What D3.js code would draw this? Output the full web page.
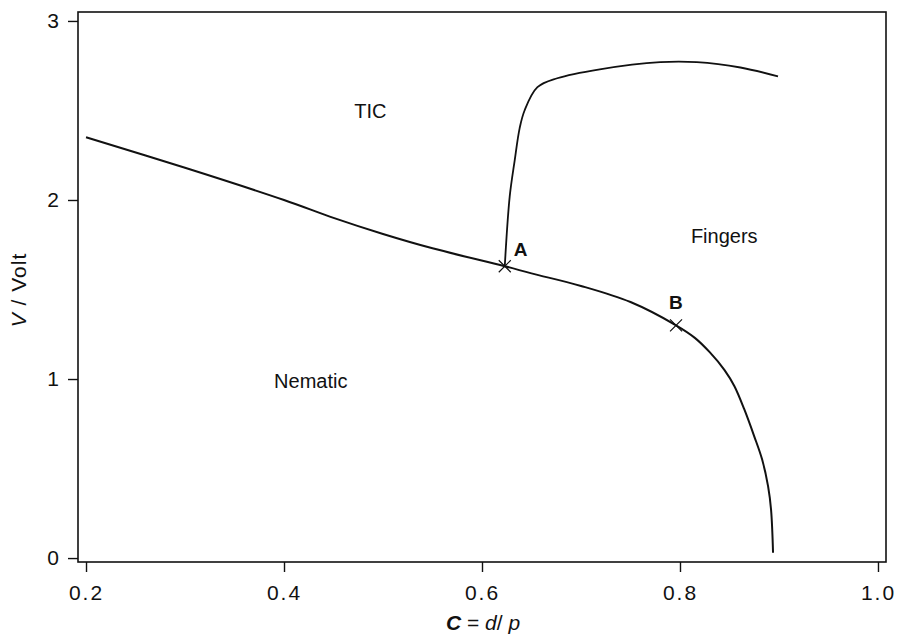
<!DOCTYPE html>
<html>
<head>
<meta charset="utf-8" />
<title>Phase diagram</title>
<script src="https://cdn.jsdelivr.net/npm/d3@7"></script>
<style>
  html, body { margin: 0; padding: 0; background: #fff; }
  text { font-family: "Liberation Sans", Arial, sans-serif; fill: #111; }
</style>
</head>
<body>
<script>
// nematic / TIC-fingers boundary
var boundC = [0.20, 0.30, 0.40, 0.45, 0.50, 0.55, 0.623, 0.65, 0.70, 0.75, 0.796, 0.815, 0.830, 0.845, 0.855, 0.865, 0.875, 0.883, 0.889, 0.892, 0.894];
var boundV = [2.35, 2.18, 2.00, 1.90, 1.81, 1.73, 1.63, 1.59, 1.52, 1.43, 1.30, 1.23, 1.15, 1.05, 0.96, 0.83, 0.68, 0.55, 0.40, 0.27, 0.03];
// TIC / fingers boundary
var ticC = [0.623, 0.628, 0.633, 0.638, 0.643, 0.656, 0.676, 0.719, 0.780, 0.817, 0.861, 0.899];
var ticV = [1.63, 2.02, 2.22, 2.40, 2.50, 2.63, 2.68, 2.73, 2.77, 2.77, 2.74, 2.69];
var pointNames = ["A", "B"];
var pointC = [0.623, 0.796];
var pointV = [1.63, 1.30];
var regionNames = ["TIC", "Nematic", "Fingers"];
var regionC = [0.471, 0.390, 0.811];
var regionV = [2.46, 0.95, 1.76];
var xTicks = [0.2, 0.4, 0.6, 0.8, 1.0];
var yTicks = [0, 1, 2, 3];

var width = 900, height = 637;
var padL = 78, padR = 886, padT = 12, padB = 562;

var svg = d3.select('body').append('svg').attr('width', width).attr('height', height);

var x = d3.scaleLinear().domain([0.1919, 1.0081]).range([padL, padR]);
var y = d3.scaleLinear().domain([-0.022, 3.05]).range([padB, padT]);

// frame
svg.append('rect').attr('x', padL).attr('y', padT).attr('width', padR - padL).attr('height', padB - padT)
  .attr('fill', 'none').attr('stroke', '#111').attr('stroke-width', 1.6);

var xAxis = svg.append('g').attr('transform', 'translate(0,' + padB + ')')
  .call(d3.axisBottom(x).tickValues(xTicks).tickFormat(d3.format('.1f')).tickSize(10).tickPadding(13));
var yAxis = svg.append('g').attr('transform', 'translate(' + padL + ',0)')
  .call(d3.axisLeft(y).tickValues(yTicks).tickFormat(d3.format('d')).tickSize(10).tickPadding(9));
[xAxis, yAxis].forEach(function(g) {
  g.select('.domain').remove();
  g.selectAll('line').attr('stroke', '#111').attr('stroke-width', 1.4);
  g.selectAll('text').attr('font-size', 21).attr('font-family', '"Liberation Sans", Arial, sans-serif')
    .attr('fill', '#111');
});
xAxis.selectAll('text').style('letter-spacing', '2px');

var line = d3.line().x(function(d) { return x(d[0]); }).y(function(d) { return y(d[1]); })
  .curve(d3.curveCatmullRom.alpha(0.5));

svg.append('path').datum(d3.zip(boundC, boundV)).attr('d', line)
  .attr('fill', 'none').attr('stroke', '#111').attr('stroke-width', 2);
svg.append('path').datum(d3.zip(ticC, ticV)).attr('d', line)
  .attr('fill', 'none').attr('stroke', '#111').attr('stroke-width', 1.8);

// crosses and their letters
var pts = svg.selectAll('.pt').data(d3.zip(pointC, pointV, pointNames)).enter().append('g')
  .attr('transform', function(d) { return 'translate(' + x(d[0]) + ',' + y(d[1]) + ')'; });
pts.append('path').attr('d', 'M-6,-6L6,6M-6,6L6,-6').attr('stroke', '#111').attr('stroke-width', 1.2);
pts.append('text').attr('x', function(d, i) { return i === 0 ? 9 : -7; })
  .attr('y', function(d, i) { return i === 0 ? -10 : -16; })
  .attr('font-size', 19).attr('font-weight', 'bold').text(function(d) { return d[2]; });

svg.selectAll('.region').data(d3.zip(regionC, regionV, regionNames)).enter().append('text')
  .attr('x', function(d) { return x(d[0]); }).attr('y', function(d) { return y(d[1]); })
  .attr('font-size', 20).text(function(d) { return d[2]; });

// axis titles
var xt = svg.append('text').attr('x', 483).attr('y', 630).attr('text-anchor', 'middle').attr('font-size', 21);
xt.append('tspan').attr('font-weight', 'bold').attr('font-style', 'italic').text('C');
xt.append('tspan').text('  =  ');
xt.append('tspan').attr('font-style', 'italic').text('d');
xt.append('tspan').text('/ ');
xt.append('tspan').attr('font-style', 'italic').text('p');

var yt = svg.append('text').attr('transform', 'translate(26,290) rotate(-90)').attr('text-anchor', 'middle')
  .attr('font-size', 21).style('letter-spacing', '1px');
yt.append('tspan').attr('font-style', 'italic').text('V');
yt.append('tspan').text(' / Volt');
</script>
</body>
</html>
